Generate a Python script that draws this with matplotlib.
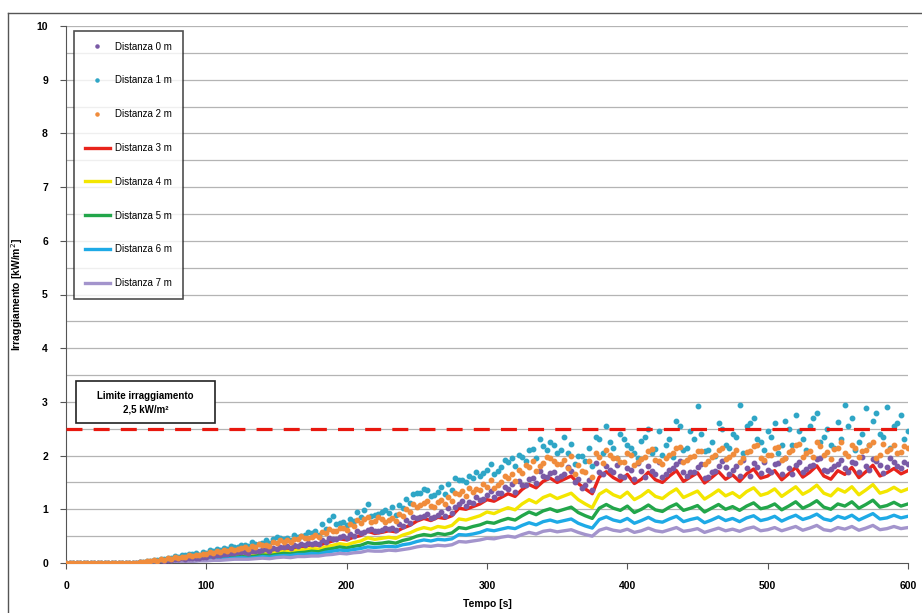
import numpy as np
import matplotlib
matplotlib.use("Agg")
import matplotlib.pyplot as plt
from matplotlib.lines import Line2D
from matplotlib.patches import Rectangle

plt.rcParams['font.family'] = ['Liberation Sans', 'DejaVu Sans']

# Time axis [s]: line series every 5 s, point series also at the half steps
tempo = np.arange(0, 601, 5)
tempo_mid = np.arange(2.5, 600, 5)

# Irradiance [kW/m^2] at increasing distance from the source
dist_0m = [0, 0, 0, 0, 0, 0, 0, 0, 0, 0, 0,
           0.00, 0.02, 0.03, 0.04, 0.05, 0.07, 0.08, 0.09, 0.10, 0.11,
           0.13, 0.15, 0.16, 0.18, 0.20, 0.19, 0.22, 0.24, 0.23, 0.27,
           0.29, 0.28, 0.32, 0.33, 0.36, 0.35, 0.40, 0.44, 0.49, 0.46,
           0.51, 0.55, 0.62, 0.59, 0.61, 0.64, 0.62, 0.69, 0.75, 0.83,
           0.88, 0.84, 0.90, 0.88, 0.93, 1.09, 1.07, 1.12, 1.18, 1.27,
           1.23, 1.31, 1.37, 1.32, 1.46, 1.56, 1.49, 1.62, 1.68, 1.58,
           1.66, 1.72, 1.57, 1.46, 1.36, 1.70, 1.80, 1.69, 1.62, 1.76,
           1.57, 1.72, 1.80, 1.65, 1.60, 1.73, 1.84, 1.70, 1.70, 1.78,
           1.58, 1.69, 1.81, 1.78, 1.74, 1.62, 1.77, 1.86, 1.68, 1.73,
           1.84, 1.65, 1.77, 1.82, 1.70, 1.80, 1.93, 1.73, 1.75, 1.84,
           1.76, 1.89, 1.69, 1.81, 1.94, 1.82, 1.78, 1.88, 1.77, 1.84]
dist_0m_mid = [0, 0, 0, 0, 0, 0, 0, 0, 0, 0,
               0.01, 0.02, 0.04, 0.05, 0.06, 0.07, 0.09, 0.10, 0.10, 0.12,
               0.14, 0.15, 0.17, 0.19, 0.21, 0.20, 0.23, 0.22, 0.26, 0.28,
               0.30, 0.31, 0.34, 0.35, 0.37, 0.38, 0.43, 0.47, 0.45, 0.50,
               0.54, 0.60, 0.57, 0.63, 0.60, 0.66, 0.65, 0.73, 0.80, 0.86,
               0.85, 0.92, 0.86, 0.95, 1.02, 1.05, 1.15, 1.14, 1.22, 1.20,
               1.35, 1.30, 1.42, 1.48, 1.52, 1.45, 1.58, 1.72, 1.60, 1.70,
               1.62, 1.78, 1.50, 1.40, 1.55, 1.86, 1.65, 1.74, 1.82, 1.60,
               1.74, 1.86, 1.60, 1.72, 1.88, 1.66, 1.76, 1.90, 1.62, 1.70,
               1.85, 1.60, 1.72, 1.90, 1.65, 1.80, 1.92, 1.62, 1.78, 1.88,
               1.70, 1.86, 1.95, 1.66, 1.88, 1.75, 1.82, 1.96, 1.72, 1.80,
               1.92, 1.70, 1.86, 1.98, 1.74, 1.90, 1.68, 1.95, 1.80, 1.88]

dist_1m = [0, 0, 0, 0, 0, 0, 0, 0, 0, 0, 0,
           0.01, 0.03, 0.05, 0.07, 0.09, 0.11, 0.14, 0.16, 0.15, 0.19,
           0.22, 0.25, 0.27, 0.30, 0.33, 0.31, 0.36, 0.38, 0.37, 0.48,
           0.45, 0.43, 0.49, 0.52, 0.55, 0.53, 0.63, 0.88, 0.74, 0.70,
           0.78, 0.85, 1.10, 0.90, 0.95, 0.93, 0.90, 1.02, 1.12, 1.30,
           1.38, 1.25, 1.32, 1.28, 1.36, 1.55, 1.50, 1.58, 1.62, 1.73,
           1.66, 1.78, 1.88, 1.80, 1.98, 2.10, 1.96, 2.18, 2.26, 2.05,
           2.35, 2.22, 2.00, 1.90, 1.80, 2.30, 2.55, 2.15, 2.40, 2.20,
           2.05, 2.28, 2.50, 2.12, 2.02, 2.30, 2.65, 2.10, 2.45, 2.92,
           2.08, 2.25, 2.60, 2.20, 2.40, 2.95, 2.55, 2.70, 2.25, 2.45,
           2.60, 2.20, 2.50, 2.75, 2.30, 2.55, 2.80, 2.35, 2.20, 2.62,
           2.95, 2.70, 2.25, 2.88, 2.65, 2.40, 2.90, 2.55, 2.75, 2.45]
dist_1m_mid = [0, 0, 0, 0, 0, 0, 0, 0, 0, 0,
               0.02, 0.04, 0.06, 0.08, 0.10, 0.13, 0.15, 0.17, 0.18, 0.21,
               0.24, 0.26, 0.28, 0.32, 0.30, 0.34, 0.40, 0.36, 0.42, 0.44,
               0.47, 0.46, 0.52, 0.50, 0.58, 0.60, 0.72, 0.80, 0.72, 0.76,
               0.82, 0.95, 0.98, 0.88, 0.92, 0.98, 1.05, 1.08, 1.20, 1.28,
               1.30, 1.36, 1.26, 1.42, 1.48, 1.58, 1.55, 1.62, 1.70, 1.68,
               1.85, 1.72, 1.92, 1.95, 2.02, 1.90, 2.12, 2.30, 2.10, 2.20,
               2.10, 2.05, 1.85, 2.00, 2.15, 2.35, 2.05, 2.25, 1.95, 2.30,
               2.15, 1.95, 2.35, 2.05, 2.45, 2.20, 1.98, 2.55, 2.15, 2.30,
               2.40, 2.10, 2.00, 2.50, 2.15, 2.35, 2.05, 2.60, 2.30, 2.10,
               2.35, 2.05, 2.65, 2.20, 2.45, 2.10, 2.70, 2.25, 2.50, 2.15,
               2.30, 2.55, 2.10, 2.40, 2.20, 2.80, 2.35, 2.15, 2.60, 2.30]

dist_2m = [0, 0, 0, 0, 0, 0, 0, 0, 0, 0, 0,
           0.01, 0.03, 0.04, 0.06, 0.08, 0.10, 0.12, 0.13, 0.14, 0.16,
           0.19, 0.21, 0.23, 0.25, 0.28, 0.27, 0.30, 0.33, 0.32, 0.37,
           0.40, 0.39, 0.44, 0.46, 0.49, 0.48, 0.55, 0.60, 0.65, 0.62,
           0.68, 0.74, 0.86, 0.79, 0.82, 0.80, 0.78, 0.88, 0.95, 1.05,
           1.12, 1.06, 1.13, 1.10, 1.15, 1.28, 1.25, 1.32, 1.36, 1.42,
           1.40, 1.50, 1.58, 1.52, 1.68, 1.78, 1.72, 1.86, 1.95, 1.84,
           1.92, 2.00, 1.82, 1.70, 1.60, 1.98, 2.10, 1.96, 1.88, 2.05,
           1.82, 1.94, 2.08, 1.92, 1.85, 2.02, 2.14, 1.88, 1.98, 2.08,
           1.84, 1.97, 2.11, 1.94, 2.03, 1.89, 2.06, 2.17, 1.95, 2.01,
           2.14, 1.92, 2.06, 2.20, 1.98, 2.09, 2.25, 2.01, 1.94, 2.14,
           2.05, 2.20, 1.97, 2.11, 2.26, 2.01, 2.08, 2.19, 2.06, 2.14]
dist_2m_mid = [0, 0, 0, 0, 0, 0, 0, 0, 0, 0,
               0.02, 0.04, 0.05, 0.07, 0.09, 0.11, 0.12, 0.14, 0.15, 0.17,
               0.20, 0.22, 0.24, 0.27, 0.26, 0.29, 0.31, 0.35, 0.34, 0.39,
               0.42, 0.43, 0.45, 0.50, 0.47, 0.52, 0.58, 0.63, 0.60, 0.66,
               0.72, 0.80, 0.82, 0.76, 0.86, 0.77, 0.84, 0.92, 1.00, 1.10,
               1.08, 1.15, 1.05, 1.18, 1.22, 1.30, 1.34, 1.40, 1.38, 1.48,
               1.55, 1.46, 1.62, 1.66, 1.74, 1.82, 1.90, 1.80, 1.98, 1.90,
               1.85, 1.76, 1.65, 1.72, 1.90, 2.05, 1.86, 2.02, 1.95, 1.88,
               2.02, 1.88, 1.98, 2.12, 1.90, 1.95, 2.05, 2.16, 1.92, 2.00,
               2.08, 1.90, 2.02, 2.15, 1.98, 2.10, 1.96, 2.08, 2.20, 1.92,
               2.02, 2.16, 1.95, 2.10, 2.22, 2.04, 1.98, 2.18, 2.06, 2.12,
               2.25, 2.00, 2.15, 2.08, 2.20, 1.96, 2.22, 2.12, 2.04, 2.18]

dist_3m = [0, 0, 0, 0, 0, 0, 0, 0, 0, 0, 0,
           0.00, 0.01, 0.02, 0.04, 0.05, 0.06, 0.08, 0.09, 0.09, 0.10,
           0.12, 0.14, 0.15, 0.16, 0.19, 0.18, 0.20, 0.23, 0.21, 0.25,
           0.27, 0.26, 0.30, 0.31, 0.34, 0.33, 0.37, 0.41, 0.45, 0.43,
           0.48, 0.51, 0.59, 0.55, 0.57, 0.60, 0.58, 0.65, 0.70, 0.78,
           0.83, 0.79, 0.85, 0.83, 0.88, 1.02, 1.00, 1.05, 1.10, 1.18,
           1.15, 1.22, 1.29, 1.24, 1.37, 1.46, 1.40, 1.52, 1.58, 1.50,
           1.56, 1.62, 1.48, 1.38, 1.29, 1.60, 1.70, 1.59, 1.52, 1.65,
           1.48, 1.56, 1.69, 1.55, 1.50, 1.62, 1.72, 1.52, 1.60, 1.68,
           1.49, 1.59, 1.70, 1.56, 1.64, 1.52, 1.66, 1.75, 1.58, 1.62,
           1.72, 1.55, 1.66, 1.78, 1.60, 1.69, 1.81, 1.62, 1.56, 1.72,
           1.65, 1.78, 1.59, 1.70, 1.82, 1.62, 1.68, 1.76, 1.66, 1.72]

dist_4m = [0, 0, 0, 0, 0, 0, 0, 0, 0, 0, 0,
           0.00, 0.01, 0.02, 0.03, 0.04, 0.05, 0.06, 0.07, 0.07, 0.08,
           0.10, 0.11, 0.12, 0.13, 0.15, 0.14, 0.16, 0.18, 0.17, 0.20,
           0.22, 0.21, 0.24, 0.25, 0.27, 0.26, 0.30, 0.33, 0.36, 0.34,
           0.38, 0.41, 0.47, 0.44, 0.46, 0.48, 0.46, 0.52, 0.56, 0.62,
           0.66, 0.63, 0.68, 0.66, 0.70, 0.82, 0.80, 0.84, 0.88, 0.95,
           0.92, 0.98, 1.03, 0.99, 1.10, 1.18, 1.12, 1.22, 1.27, 1.20,
           1.25, 1.30, 1.18, 1.10, 1.03, 1.28, 1.36, 1.27, 1.22, 1.32,
           1.18, 1.25, 1.35, 1.24, 1.20, 1.30, 1.38, 1.22, 1.28, 1.34,
           1.19, 1.27, 1.36, 1.25, 1.31, 1.22, 1.33, 1.40, 1.26, 1.30,
           1.38, 1.24, 1.33, 1.42, 1.28, 1.35, 1.45, 1.30, 1.25, 1.38,
           1.32, 1.42, 1.27, 1.36, 1.46, 1.30, 1.34, 1.41, 1.33, 1.38]

dist_5m = [0, 0, 0, 0, 0, 0, 0, 0, 0, 0, 0,
           0.00, 0.01, 0.02, 0.02, 0.03, 0.04, 0.05, 0.06, 0.06, 0.07,
           0.08, 0.09, 0.10, 0.11, 0.12, 0.11, 0.13, 0.15, 0.14, 0.16,
           0.18, 0.17, 0.19, 0.20, 0.22, 0.21, 0.25, 0.27, 0.30, 0.28,
           0.31, 0.33, 0.38, 0.36, 0.37, 0.39, 0.37, 0.42, 0.45, 0.50,
           0.53, 0.51, 0.55, 0.53, 0.56, 0.66, 0.64, 0.68, 0.71, 0.76,
           0.74, 0.79, 0.83, 0.80, 0.88, 0.95, 0.90, 0.97, 1.01, 0.96,
           1.00, 1.04, 0.94, 0.88, 0.83, 1.02, 1.09, 1.02, 0.98, 1.06,
           0.94, 1.00, 1.08, 0.99, 0.96, 1.04, 1.10, 0.98, 1.02, 1.07,
           0.95, 1.02, 1.09, 1.00, 1.05, 0.98, 1.06, 1.12, 1.01, 1.04,
           1.10, 0.99, 1.06, 1.14, 1.02, 1.08, 1.16, 1.04, 1.00, 1.10,
           1.06, 1.14, 1.02, 1.09, 1.17, 1.04, 1.07, 1.13, 1.06, 1.10]

dist_6m = [0, 0, 0, 0, 0, 0, 0, 0, 0, 0, 0,
           0.00, 0.01, 0.01, 0.02, 0.03, 0.03, 0.04, 0.04, 0.05, 0.05,
           0.07, 0.07, 0.08, 0.09, 0.10, 0.09, 0.10, 0.12, 0.11, 0.13,
           0.14, 0.14, 0.16, 0.16, 0.18, 0.17, 0.20, 0.22, 0.24, 0.23,
           0.25, 0.27, 0.30, 0.29, 0.30, 0.31, 0.30, 0.34, 0.36, 0.40,
           0.43, 0.41, 0.44, 0.43, 0.45, 0.53, 0.52, 0.54, 0.57, 0.62,
           0.60, 0.63, 0.66, 0.64, 0.70, 0.75, 0.71, 0.77, 0.80, 0.76,
           0.79, 0.82, 0.74, 0.69, 0.65, 0.81, 0.86, 0.80, 0.77, 0.83,
           0.74, 0.79, 0.85, 0.78, 0.76, 0.82, 0.87, 0.77, 0.81, 0.84,
           0.75, 0.80, 0.86, 0.79, 0.83, 0.77, 0.84, 0.88, 0.79, 0.82,
           0.87, 0.78, 0.84, 0.89, 0.81, 0.85, 0.91, 0.82, 0.79, 0.87,
           0.83, 0.89, 0.80, 0.86, 0.92, 0.82, 0.84, 0.89, 0.84, 0.87]

dist_7m = [0, 0, 0, 0, 0, 0, 0, 0, 0, 0, 0,
           0.00, 0.00, 0.01, 0.01, 0.02, 0.02, 0.03, 0.03, 0.04, 0.04,
           0.05, 0.05, 0.06, 0.07, 0.07, 0.07, 0.08, 0.09, 0.08, 0.10,
           0.11, 0.10, 0.12, 0.12, 0.13, 0.13, 0.15, 0.16, 0.18, 0.17,
           0.19, 0.20, 0.23, 0.22, 0.22, 0.24, 0.23, 0.25, 0.27, 0.30,
           0.32, 0.31, 0.33, 0.32, 0.34, 0.40, 0.39, 0.41, 0.43, 0.46,
           0.45, 0.48, 0.50, 0.48, 0.53, 0.57, 0.54, 0.59, 0.61, 0.58,
           0.60, 0.62, 0.57, 0.53, 0.50, 0.61, 0.65, 0.61, 0.59, 0.63,
           0.57, 0.60, 0.65, 0.60, 0.58, 0.62, 0.66, 0.59, 0.61, 0.64,
           0.57, 0.61, 0.65, 0.60, 0.63, 0.59, 0.64, 0.67, 0.60, 0.62,
           0.66, 0.60, 0.64, 0.68, 0.61, 0.65, 0.70, 0.62, 0.60, 0.66,
           0.63, 0.68, 0.61, 0.65, 0.70, 0.62, 0.64, 0.68, 0.64, 0.66]

limite = 2.5

label_dots = ["Distanza 0 m", "Distanza 1 m", "Distanza 2 m"]
label_lines = ["Distanza 3 m", "Distanza 4 m", "Distanza 5 m",
               "Distanza 6 m", "Distanza 7 m"]
col_dots = ["#7a5aa6", "#2fa6c6", "#f08c3c"]
col_lines = ["#e8241c", "#f3e600", "#22a64a", "#1eaae6", "#a394cc"]


def merge(full, mid):
    """Interleave the 5 s samples with the half-step samples."""
    t = np.concatenate([tempo, tempo_mid])
    v = np.concatenate([full, mid])
    order = np.argsort(t)
    return t[order], v[order]


fig = plt.figure(figsize=(9.22, 6.13), dpi=100)
ax = fig.add_axes([66 / 922, 50 / 613, 842 / 922, 537 / 613])

# outer chart frame
fig.add_artist(Line2D([8 / 922, 8 / 922], [0, 1 - 13 / 613], color="#555555", lw=1.0))
fig.add_artist(Line2D([8 / 922, 1], [1 - 13 / 613, 1 - 13 / 613], color="#555555", lw=1.0))

for yv in np.arange(0.5, 10.01, 0.5):
    ax.axhline(yv, color="#b4b4b4", lw=0.9, zorder=0)

handles = []
for vals, c, lab in zip([dist_3m, dist_4m, dist_5m, dist_6m, dist_7m], col_lines, label_lines):
    h, = ax.plot(tempo, vals, color=c, lw=2.4, zorder=2, label=lab)
    handles.append(h)

dot_handles = []
for (full, mid), c, lab in zip([(dist_0m, dist_0m_mid), (dist_1m, dist_1m_mid),
                                (dist_2m, dist_2m_mid)], col_dots, label_dots):
    tt, vv = merge(full, mid)
    h, = ax.plot(tt, vv, ls="none", marker="o", ms=3.2, mec=c, mfc=c,
                 zorder=3, label=lab)
    dot_handles.append(h)

ax.axhline(limite, color="#e8180f", lw=2.3, dashes=(5, 3.5), zorder=4)

ax.set_xlim(0, 600)
ax.set_ylim(0, 10)
ax.set_xticks(np.arange(0, 601, 100))
ax.set_yticks(np.arange(0, 11, 1))
ax.tick_params(axis="both", labelsize=7.5, length=4, width=0.8, color="#555555",
               direction="out", pad=9)
for lbl in ax.get_xticklabels() + ax.get_yticklabels():
    lbl.set_fontweight("bold")
for s in ["top", "right"]:
    ax.spines[s].set_visible(False)
ax.spines["left"].set_color("#555555")
ax.spines["bottom"].set_color("#555555")

ax.set_xlabel("Tempo [s]", fontsize=7.5, fontweight="bold", labelpad=6)
ax.set_ylabel("Irraggiamento [kW/m$^2$]", fontsize=7.5, fontweight="bold", labelpad=8)

leg = ax.legend(handles=dot_handles + handles, loc="upper left",
                bbox_to_anchor=(0.0095, 0.991), borderaxespad=0,
                fontsize=7, frameon=True, fancybox=False, edgecolor="#222222",
                labelspacing=2.45, handlelength=2.6, handletextpad=0.5,
                borderpad=1.1, markerscale=0.7)
leg.get_frame().set_linewidth(1.2)

# threshold label box
ax.add_patch(Rectangle((0.0119, 0.2607), 0.165, 0.078, transform=ax.transAxes,
                       facecolor="white", edgecolor="#222222", lw=1.2, zorder=5))
ax.text(0.0944, 0.311, "Limite irraggiamento", transform=ax.transAxes,
        ha="center", va="center", fontsize=7, fontweight="bold", zorder=6)
ax.text(0.0944, 0.285, "2,5 kW/m²", transform=ax.transAxes,
        ha="center", va="center", fontsize=7, fontweight="bold", zorder=6)

fig.savefig("out.png", dpi=100)
